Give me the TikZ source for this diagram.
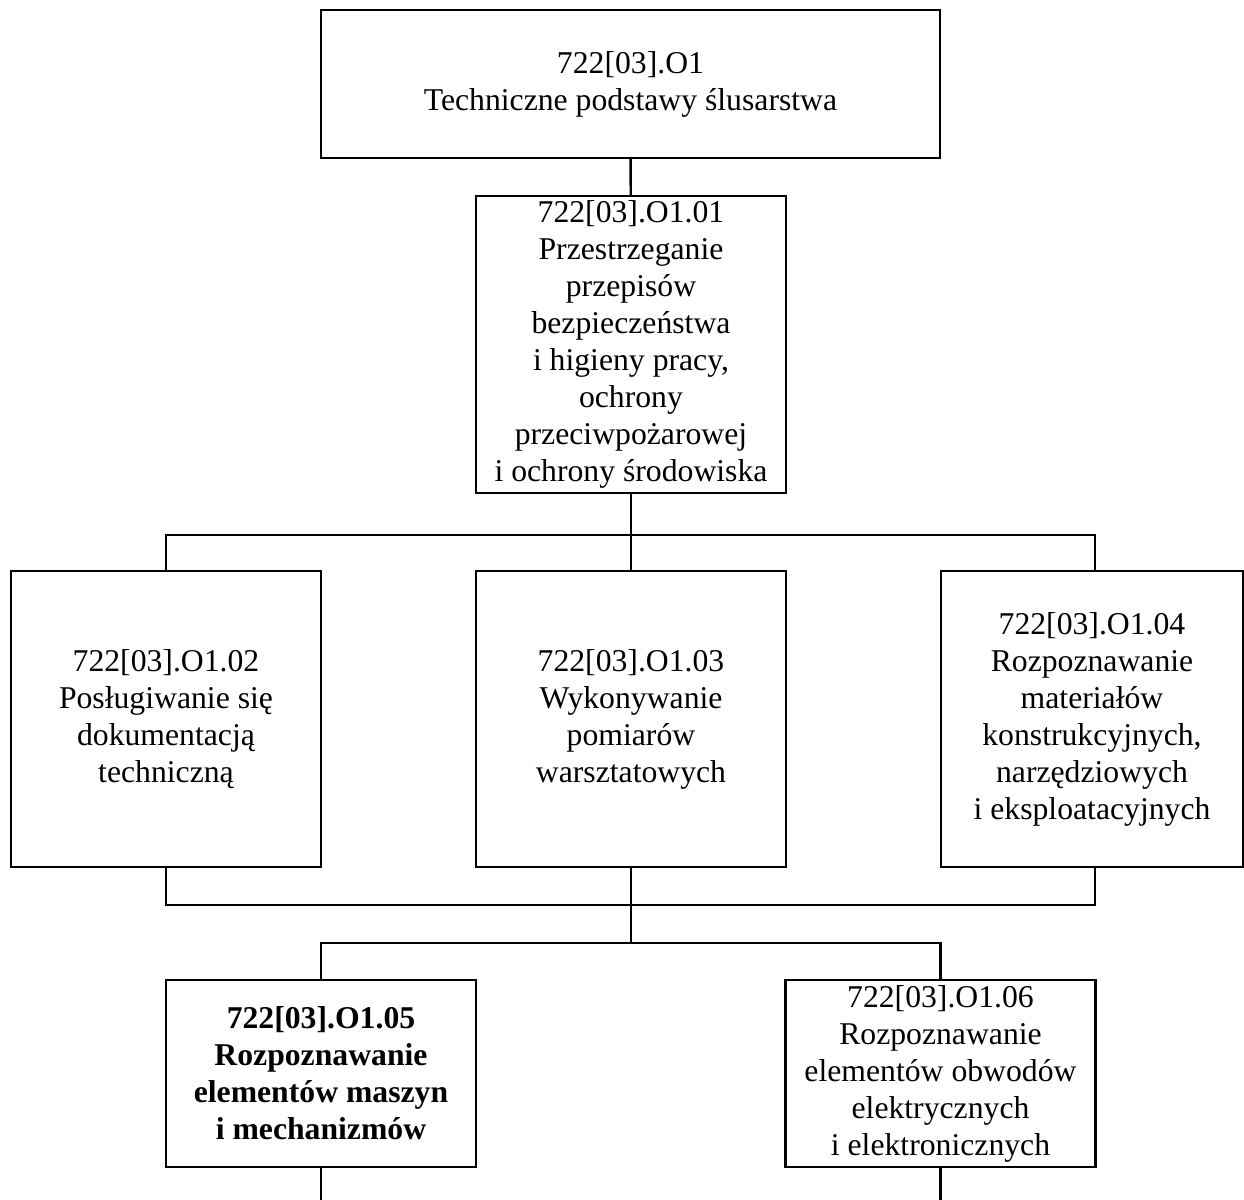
\documentclass[tikz,border=0pt]{standalone}
\usepackage{fontspec}
\setmainfont{Liberation Serif}
\begin{document}
\begin{tikzpicture}[x=.5pt,y=-.5pt,line width=1.2pt,
		box/.style={draw,rectangle,align=center,inner sep=0pt,outer sep=0pt,
			minimum width=155pt,font=\fontsize{15.85}{18.5}\selectfont}]
				\useasboundingbox (0,0) rectangle (1244,1200);
				\def\wide{155pt}
				
				\node[box,minimum width=309.5pt,minimum height=74pt] (top) at (630.5,84)
					{722[03].O1\\Techniczne podstawy ślusarstwa};
				\node[box,minimum height=148.5pt] (bhp) at (631,344.5)
					{722[03].O1.01\\Przestrzeganie\\przepisów\\bezpieczeństwa\\i higieny pracy,\\ochrony\\przeciwpożarowej\\i ochrony środowiska};
				
				\node[box,minimum height=148pt] (dok) at (166,719)
					{722[03].O1.02\\Posługiwanie się\\dokumentacją\\techniczną};
				\node[box,minimum height=148pt] (pom) at (631,719)
					{722[03].O1.03\\Wykonywanie\\pomiarów\\warsztatowych};
				\node[box,minimum width=151pt,minimum height=148pt] (mat) at (1092,719)
					{722[03].O1.04\\Rozpoznawanie\\materiałów\\konstrukcyjnych,\\narzędziowych\\i eksploatacyjnych};
				
				\node[box,minimum height=93.5pt,font=\fontsize{15.85}{18.5}\selectfont\bfseries] (masz) at (321,1073.5)
					{722[03].O1.05\\Rozpoznawanie\\elementów maszyn\\i mechanizmów};
				\node[box,minimum height=93.5pt] (elek) at (940.5,1073.5)
					{722[03].O1.06\\Rozpoznawanie\\elementów obwodów\\elektrycznych\\i elektronicznych};
				
				\coordinate (bus1) at (631,535);
				\coordinate (bus2) at (631,905);
				\coordinate (bus3) at (631,943);
				\coordinate (maszout) at (321,1200);
				\coordinate (elekout) at (940.5,1200);
				
				\draw (top) -- (bhp);
				\draw (bhp) -- (bus1) -- (pom);
				\draw (dok.north -| 166,0) |- (bus1) -| (mat.north -| 1095,0);
				\draw (dok.south -| 166,0) |- (bus2) -| (mat.south -| 1095,0);
				\draw (pom) -- (bus2) -- (bus3);
				\draw (masz) |- (bus3) -| (elek);
				\draw (masz) -- (maszout);
				\draw (elek) -- (elekout);
	\end{tikzpicture}
\end{document}
